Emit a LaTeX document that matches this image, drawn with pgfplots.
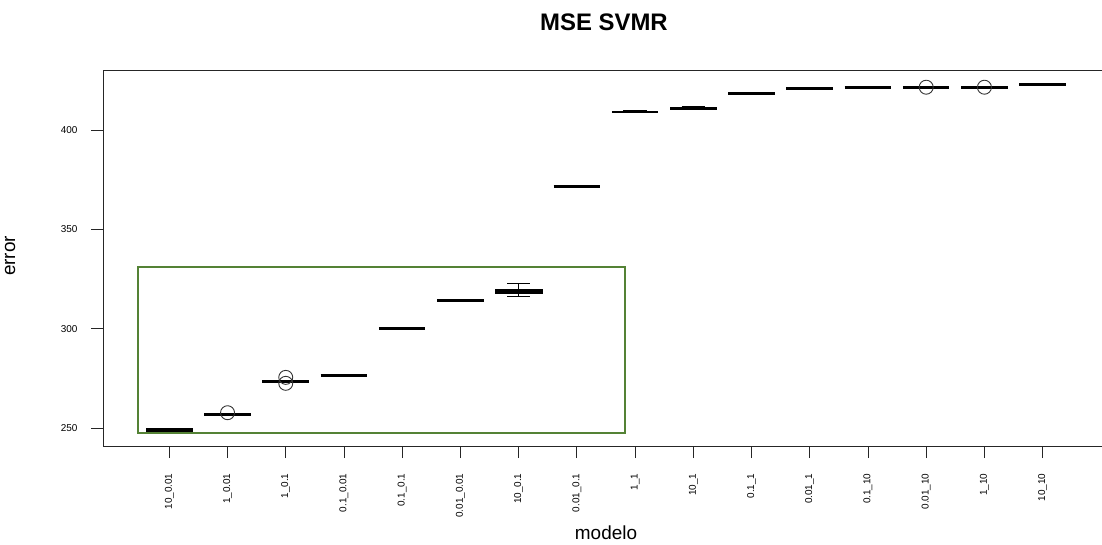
\documentclass[border=0pt]{standalone}
\usepackage{fontspec}
\setmainfont{Liberation Sans}
\usepackage{pgfplots}
\pgfplotsset{compat=1.18}
\usetikzlibrary{plotmarks}
\definecolor{boxgreen}{RGB}{84,130,53}
\begin{document}
\begin{tikzpicture}
\useasboundingbox (0bp,0bp) rectangle (1102bp,545bp);
\begin{axis}[
  at={(103bp,99bp)}, anchor=south west,
  scale only axis, width=1006bp, height=376bp,
  xmin=-0.139, xmax=17.14,
  ymin=240.94, ymax=430.27,
  axis line style={black!85, line width=0.8bp},
  tick align=outside, major tick length=12bp,
  tick style={black!85, line width=0.8bp},
  xtick pos=lower, ytick pos=left,
  xtick={1,...,16},
  xticklabels={10\_0.01,1\_0.01,1\_0.1,0.1\_0.01,0.1\_0.1,0.01\_0.01,10\_0.1,0.01\_0.1,1\_1,10\_1,0.1\_1,0.01\_1,0.1\_10,0.01\_10,1\_10,10\_10},
  xticklabel style={rotate=90, anchor=east, font=\fontsize{10}{11}\selectfont},
  xticklabel shift=12bp,
  ytick={250,300,350,400},
  yticklabel style={font=\fontsize{10}{11}\selectfont},
  yticklabel shift=10bp,
  /pgf/number format/assume math mode=true,
  clip=false,
  med/.style={black, line width=3bp, line cap=butt, no marks},
  thin/.style={black, line width=0.8bp, no marks},
]
\draw[boxgreen, line width=2.5bp] (axis cs:0.462,247.4) rectangle (axis cs:8.826,331.0);
% medians (degenerate boxes)
\addplot[med, line width=4bp] coordinates {(0.6,249.0) (1.4,249.0)};
\addplot[med] coordinates {(1.6,257.0) (2.4,257.0)};
\addplot[med] coordinates {(2.6,273.6) (3.4,273.6)};
\addplot[med] coordinates {(3.6,276.6) (4.4,276.6)};
\addplot[med] coordinates {(4.6,300.2) (5.4,300.2)};
\addplot[med] coordinates {(5.6,314.0) (6.4,314.0)};
% 10_0.1 box
\addplot[thin] coordinates {(6.6,317.9) (7.4,317.9) (7.4,319.7) (6.6,319.7) (6.6,317.9)};
\addplot[thin] coordinates {(7,319.7) (7,322.8)};
\addplot[thin] coordinates {(6.8,322.8) (7.2,322.8)};
\addplot[thin] coordinates {(7,317.9) (7,316.4)};
\addplot[thin] coordinates {(6.8,316.4) (7.2,316.4)};
\addplot[med] coordinates {(6.6,318.8) (7.4,318.8)};
\addplot[med] coordinates {(7.6,371.4) (8.4,371.4)};
% 1_1
\addplot[thin] coordinates {(8.6,409.0) (9.4,409.0)};
\addplot[med, line width=2.5bp] coordinates {(8.6,409.2) (9.4,409.2)};
\addplot[med, line width=2.5bp] coordinates {(8.8,409.6) (9.2,409.6)};
% 10_1
\addplot[thin] coordinates {(9.6,410.3) (10.4,410.3) (10.4,411.0) (9.6,411.0) (9.6,410.3)};
\addplot[med] coordinates {(9.6,410.7) (10.4,410.7)};
\addplot[med, line width=4bp] coordinates {(9.8,410.9) (10.2,410.9)};
\addplot[med] coordinates {(10.6,418.5) (11.4,418.5)};
\addplot[med] coordinates {(11.6,421.0) (12.4,421.0)};
\addplot[med] coordinates {(12.6,421.5) (13.4,421.5)};
\addplot[med] coordinates {(13.6,421.5) (14.4,421.5)};
\addplot[med] coordinates {(14.6,421.5) (15.4,421.5)};
\addplot[med] coordinates {(15.6,423.1) (16.4,423.1)};
% outliers
\addplot[only marks, mark=*, mark size=7bp, mark options={draw=black!80, fill=white, fill opacity=0, line width=0.9bp}] coordinates {(2,257.7) (3,275.5) (3,272.5) (14,421.6) (15,421.6)};
\end{axis}
\node[font=\fontsize{24}{28}\selectfont\bfseries] at (604bp,523bp) {MSE SVMR};
\node[font=\fontsize{19}{22}\selectfont] at (606bp,12bp) {modelo};
\node[font=\fontsize{19}{22}\selectfont, rotate=90] at (10bp,289bp) {error};
\end{tikzpicture}
\end{document}
